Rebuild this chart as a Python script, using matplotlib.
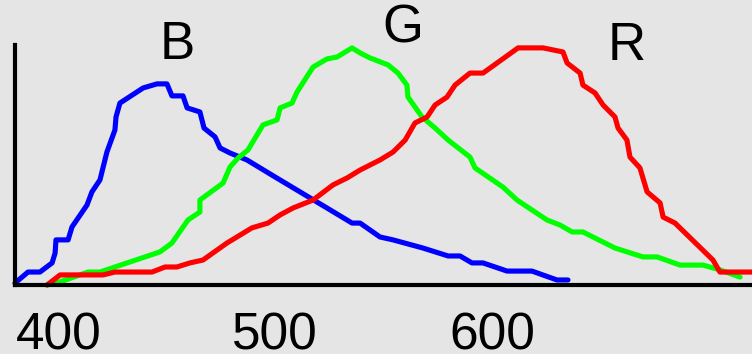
import matplotlib; matplotlib.use("Agg")
import matplotlib.pyplot as plt

BG = "#e5e5e5"

# wavelength (nm) / relative response (%)
blue_nm = [380.0, 386.0, 391.5, 397.1, 398.5, 398.9, 404.5, 406.3, 413.2, 415.5, 419.2, 422.4,
           426.1, 426.6, 428.4, 439.1, 445.5, 450.1, 452.4, 457.5, 459.4, 465.3, 467.2, 472.3,
           474.6, 479.2, 487.0, 500.0, 516.1, 523.9, 535.5, 539.2, 548.4, 554.4, 568.2, 579.8,
           585.3, 590.8, 595.9, 607.0, 618.5, 630.0, 635.1]
blue_v = [0.8, 5.4, 5.4, 9.2, 13.3, 18.8, 18.8, 24.2, 33.3, 38.8, 43.8, 55.4,
          64.6, 70.0, 75.8, 82.1, 83.8, 83.8, 78.8, 78.8, 73.8, 72.1, 65.4, 61.7,
          57.1, 55.0, 52.1, 45.0, 36.3, 32.1, 25.8, 25.8, 20.0, 18.8, 15.4, 12.1,
          12.1, 9.2, 9.2, 5.8, 5.8, 2.1, 2.1]

green_nm = [394.8, 400.8, 413.7, 419.2, 446.9, 452.4, 459.8, 465.3, 465.3, 476.0, 479.2, 482.9,
            487.5, 494.4, 500.9, 502.3, 507.8, 510.1, 517.5, 523.9, 528.6, 535.5, 539.2, 543.8,
            552.1, 556.7, 560.8, 561.3, 567.8, 573.8, 579.8, 589.9, 592.2, 605.1, 611.6, 625.4,
            631.4, 637.0, 642.0, 656.8, 669.7, 676.2, 686.8, 697.4, 705.2, 714.5]
green_v = [0.0, 1.3, 5.4, 5.4, 13.8, 17.5, 27.1, 30.4, 35.4, 42.5, 49.2, 52.9,
           56.3, 66.7, 68.8, 73.8, 75.8, 80.4, 90.8, 94.2, 95.0, 98.8, 96.7, 94.6,
           91.7, 88.3, 83.3, 78.3, 70.0, 65.4, 60.4, 53.3, 48.8, 40.8, 35.4, 27.1,
           25.0, 22.1, 22.1, 15.4, 11.7, 11.7, 8.3, 8.3, 6.3, 3.3]

red_nm = [394.8, 400.8, 420.6, 426.1, 443.2, 449.2, 454.7, 460.7, 466.7, 477.8, 489.3, 496.7,
          502.3, 508.3, 517.5, 526.7, 533.2, 539.2, 548.4, 554.4, 560.0, 564.5, 570.1, 573.8,
          579.3, 583.0, 589.9, 595.9, 612.1, 623.6, 632.8, 634.7, 640.7, 642.0, 647.6, 651.3,
          656.8, 658.2, 662.3, 663.7, 668.3, 671.6, 677.6, 679.0, 684.5, 702.0, 705.2, 720.0]
red_v = [0.0, 4.2, 4.2, 5.4, 5.4, 7.5, 7.5, 9.2, 10.4, 17.5, 23.8, 25.8,
         29.2, 32.1, 35.4, 41.7, 44.6, 47.9, 52.1, 55.4, 60.4, 67.5, 70.0, 75.0,
         78.3, 83.3, 88.3, 88.3, 98.8, 98.8, 97.1, 92.5, 88.3, 83.3, 80.0, 75.0,
         70.0, 65.4, 60.4, 53.3, 48.8, 38.8, 34.2, 28.3, 25.8, 10.4, 5.4, 5.4]

ticks = [400, 500, 600]
labels = [("B", 455, 100), ("G", 559, 107), ("R", 662, 99.5)]

plt.rcParams["font.family"] = ["Liberation Sans", "DejaVu Sans"]
fig = plt.figure(figsize=(7.52, 3.54), dpi=100, facecolor=BG)
ax = fig.add_axes([15/752, 69/354, 737/752, 240/354], facecolor=BG)

kw = dict(lw=3.7, solid_capstyle="round", solid_joinstyle="round", clip_on=False)
ax.plot(blue_nm, blue_v, color="#0000ff", zorder=3, **kw)
ax.plot(green_nm, green_v, color="#00ff00", zorder=4, **kw)
ax.plot(red_nm, red_v, color="#ff0000", zorder=5, **kw)

for t, x, y in labels:
    ax.text(x, y, t, fontsize=38, ha="center", va="center", color="black")

ax.set_xlim(380, 720); ax.set_ylim(0, 100)
for s in ["top", "right"]: ax.spines[s].set_visible(False)
for s in ["left", "bottom"]:
    ax.spines[s].set_linewidth(3.0); ax.spines[s].set_color("black"); ax.spines[s].set_zorder(6)
ax.set_xticks(ticks); ax.set_xticklabels([str(t) for t in ticks], fontsize=37)
ax.set_yticks([])
ax.tick_params(axis="x", length=0, pad=19)

fig.savefig("out.png", dpi=100, facecolor=BG)
